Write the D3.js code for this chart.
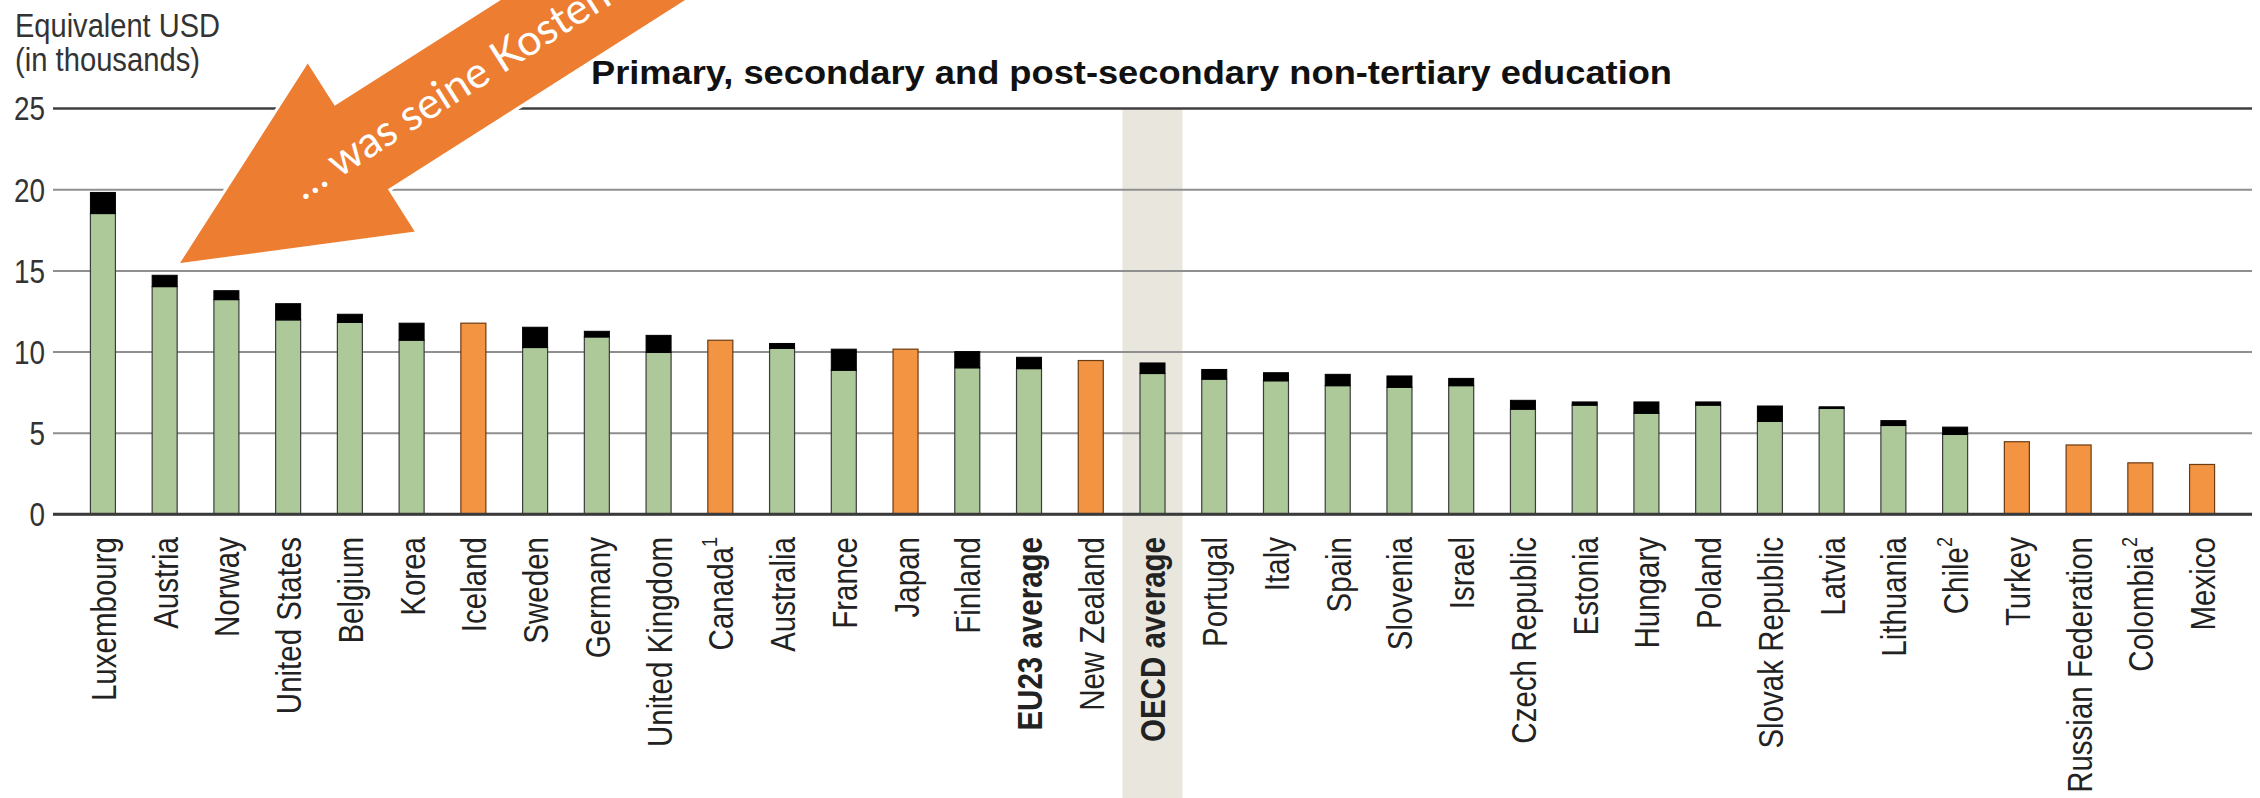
<!DOCTYPE html>
<html><head><meta charset="utf-8">
<script src="https://cdn.jsdelivr.net/npm/d3@7"></script>
<style>body{margin:0;background:#fff;} svg{display:block;}</style>
</head><body><svg id="c" width="2260" height="798"></svg>
<script>
// ---------- data ----------
const countries = ["Luxembourg","Austria","Norway","United States","Belgium","Korea","Iceland","Sweden","Germany","United Kingdom","Canada","Australia","France","Japan","Finland","EU23 average","New Zealand","OECD average","Portugal","Italy","Spain","Slovenia","Israel","Czech Republic","Estonia","Hungary","Poland","Slovak Republic","Latvia","Lithuania","Chile","Turkey","Russian Federation","Colombia","Mexico"];
const footnotes = ["","","","","","","","","","","1","","","","","","","","","","","","","","","","","","","","2","","","2",""];
// green part (lower segment); null where only a total is shown
const greenValues = [18.5,14.0,13.2,11.95,11.8,10.7,null,10.25,10.9,9.95,null,10.2,8.85,null,9.0,8.95,null,8.65,8.3,8.2,7.9,7.8,7.9,6.45,6.7,6.2,6.7,5.7,6.5,5.45,4.9,null,null,null,null];
// black part (upper segment)
const blackValues = [1.3,0.7,0.55,1.0,0.5,1.05,null,1.25,0.35,1.05,null,0.3,1.3,null,1.0,0.7,null,0.65,0.6,0.5,0.7,0.7,0.45,0.55,0.2,0.7,0.2,0.95,0.1,0.3,0.45,null,null,null,null];
// orange bars: total only
const orangeTotals = [null,null,null,null,null,null,11.75,null,null,null,10.7,null,null,10.15,null,null,9.45,null,null,null,null,null,null,null,null,null,null,null,null,null,null,4.45,4.25,3.15,3.05];
const boldCategories = ["EU23 average","OECD average"];
const shadedCategory = "OECD average";
const yTicks = [0,5,10,15,20,25];
const titleText = "Primary, secondary and post-secondary non-tertiary education";
const yLabelLines = ["Equivalent USD","(in thousands)"];
const arrowText = "\u2026 was seine Kosten";

// ---------- drawing ----------
const svg = d3.select("#c");
const W = 2260, H = 798;
const x0 = 53, x1 = 2252, yTop = 108, yBase = 514;
const narrow = "'Liberation Sans Narrow','Arial Narrow','Liberation Sans',Arial,sans-serif";
const squeeze = 0.82;

const x = d3.scaleBand().domain(countries).range([x0, x1]).paddingInner(0.595).paddingOuter(0.606);
const y = d3.scaleLinear().domain([0, 25]).range([yBase, yTop]);

// shaded OECD column
svg.append("rect")
  .attr("x", x(shadedCategory) + x.bandwidth()/2 - 30)
  .attr("y", y(25))
  .attr("width", 60)
  .attr("height", H - y(25))
  .attr("fill", "#e9e6de");

// y axis with gridlines
const yAxis = d3.axisLeft(y).tickValues(yTicks).tickSize(-(x1 - x0)).tickPadding(0).tickFormat(d3.format("d"));
const gy = svg.append("g").attr("transform", `translate(${x0},0)`).call(yAxis);
gy.select(".domain").remove();
gy.selectAll(".tick line")
  .attr("stroke", d => d === 25 ? "#3f3f3f" : (d === 0 ? "#3a3a3a" : "#8f8f8f"))
  .attr("stroke-width", d => (d === 25 || d === 0) ? 2.6 : 2);
gy.selectAll(".tick text")
  .attr("x", null)
  .attr("transform", `translate(-8,0) scale(${squeeze},1)`)
  .attr("font-family", narrow).attr("font-size", 34).attr("fill", "#333")
  .attr("dy", "0.35em");

// axis title (top-left)
const yl = svg.append("text").attr("font-family", narrow).attr("font-size", 33).attr("fill", "#333");
yl.append("tspan").attr("x", 15).attr("y", 37).attr("textLength", 205).attr("lengthAdjust", "spacingAndGlyphs").text(yLabelLines[0]);
yl.append("tspan").attr("x", 15).attr("y", 71).attr("textLength", 185).attr("lengthAdjust", "spacingAndGlyphs").text(yLabelLines[1]);

// chart title
svg.append("text").attr("x", 591).attr("y", 84)
  .attr("font-family", narrow).attr("font-weight", "bold").attr("font-size", 33).attr("fill", "#111")
  .attr("textLength", 1081).attr("lengthAdjust", "spacingAndGlyphs")
  .text(titleText);

// bars
const rows = countries.map((c, i) => ({c, g: greenValues[i], b: blackValues[i], o: orangeTotals[i]}));
const bars = svg.append("g");
const stroke = "#3d3d3d";
bars.selectAll("rect.green").data(rows.filter(d => d.g != null)).join("rect")
  .attr("x", d => x(d.c)).attr("width", x.bandwidth())
  .attr("y", d => y(d.g)).attr("height", d => y(0) - y(d.g))
  .attr("fill", "#adc99a").attr("stroke", stroke).attr("stroke-width", 1.2);
bars.selectAll("rect.black").data(rows.filter(d => d.b != null)).join("rect")
  .attr("x", d => x(d.c)).attr("width", x.bandwidth())
  .attr("y", d => y(d.g + d.b)).attr("height", d => y(d.g) - y(d.g + d.b))
  .attr("fill", "#000").attr("stroke", "#000").attr("stroke-width", 1);
bars.selectAll("rect.orange").data(rows.filter(d => d.o != null)).join("rect")
  .attr("x", d => x(d.c)).attr("width", x.bandwidth())
  .attr("y", d => y(d.o)).attr("height", d => y(0) - y(d.o))
  .attr("fill", "#f39442").attr("stroke", "#6b3b12").attr("stroke-width", 1.2);

// redraw baseline on top
svg.append("line").attr("x1", x0).attr("x2", x1).attr("y1", y(0)).attr("y2", y(0))
  .attr("stroke", "#3a3a3a").attr("stroke-width", 2.6);

// category labels
const lab = svg.append("g");
countries.forEach((c, i) => {
  const cx = x(c) + x.bandwidth()/2;
  const t = lab.append("text")
    .attr("transform", `translate(${cx},${yBase + 23}) rotate(-90) scale(${squeeze},1)`)
    .attr("text-anchor", "end")
    .attr("dy", "0.36em")
    .attr("font-family", narrow).attr("font-size", 36)
    .attr("font-weight", boldCategories.includes(c) ? "bold" : "normal")
    .attr("fill", "#222");
  t.append("tspan").text(c);
  if (footnotes[i]) {
    t.append("tspan").attr("font-size", 22).attr("dy", "-0.75em").text(footnotes[i]);
  }
});

// orange annotation arrow
const ang = -32.5 * Math.PI / 180;
const ux = Math.cos(ang), uy = Math.sin(ang);   // along shaft (towards upper right)
const nx = -uy, ny = ux;                         // perpendicular
const tip = [177, 265];
const headLen = 220, headHalf = 102, shaftHalf = 51, shaftLen = 700;
const P = (a, b) => [tip[0] + ux*a + nx*b, tip[1] + uy*a + ny*b];
const arrowPts = [
  P(0, 0), P(headLen, -headHalf), P(headLen, -shaftHalf), P(headLen + shaftLen, -shaftHalf),
  P(headLen + shaftLen, shaftHalf), P(headLen, shaftHalf), P(headLen, headHalf)
];
svg.append("polygon").attr("points", arrowPts.map(p => p.join(",")).join(" "))
  .attr("fill", "#ed7d31").attr("stroke", "#fff").attr("stroke-width", 3).attr("stroke-linejoin", "miter");
svg.append("text")
  .attr("transform", `translate(303,201) rotate(-32.5)`)
  .attr("font-family", "Lato,'Open Sans',sans-serif").attr("font-size", 43).attr("fill", "#fff")
  .text(arrowText);
</script></body></html>
